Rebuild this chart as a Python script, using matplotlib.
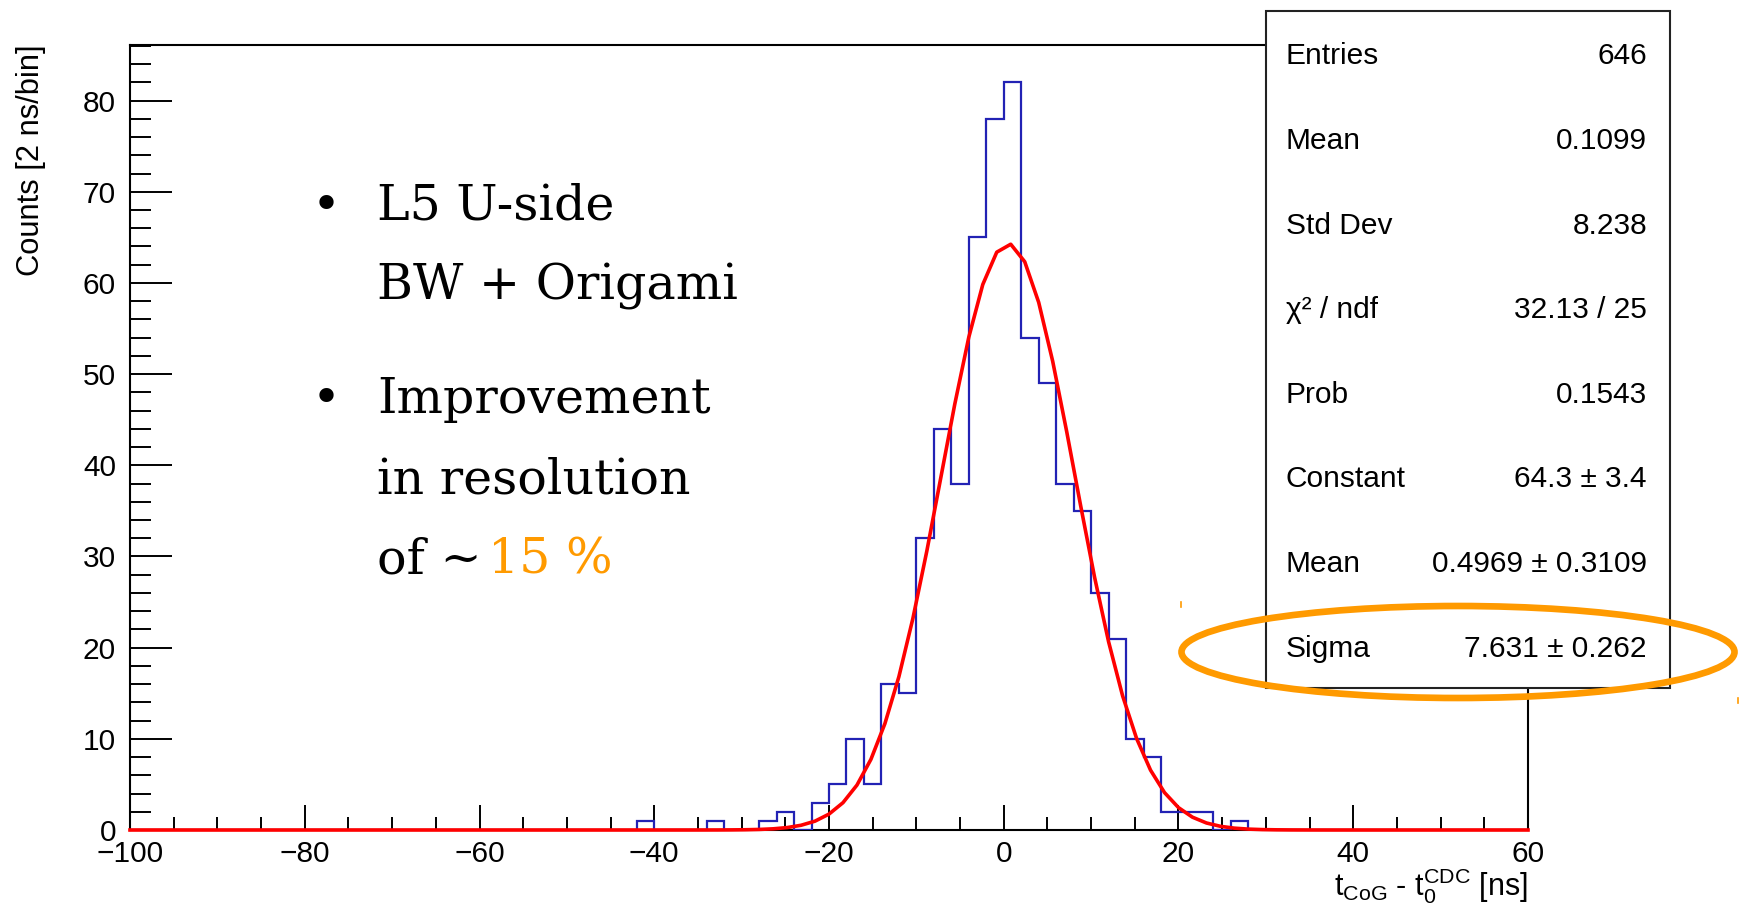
import numpy as np
import matplotlib
matplotlib.use("Agg")
import matplotlib.pyplot as plt
from matplotlib.patches import Ellipse, Rectangle
from matplotlib.lines import Line2D
from matplotlib.ticker import MultipleLocator

# ---------------- data ----------------
hist_low, hist_high, bin_width = -100, 60, 2
filled_bin_lows = [-42, -34, -28, -26, -22, -20, -18, -16, -14, -12, -10, -8, -6,
                   -4, -2, 0, 2, 4, 6, 8, 10, 12, 14, 16, 18, 20, 22, 26]
filled_bin_counts = [1, 1, 1, 2, 3, 5, 10, 5, 16, 15, 32, 44, 38,
                     65, 78, 82, 54, 49, 38, 35, 26, 21, 10, 8, 2, 2, 2, 1]

fit_constant = 64.3
fit_mean = 0.4969
fit_sigma = 7.631

x_ticks = [-100, -80, -60, -40, -20, 0, 20, 40, 60]
y_ticks = [0, 10, 20, 30, 40, 50, 60, 70, 80]

stat_labels = ["Entries", "Mean", "Std Dev", "χ² / ndf", "Prob",
               "Constant", "Mean", "Sigma"]
stat_values = ["646", "0.1099", "8.238", "32.13 / 25", "0.1543",
               "64.3 ± 3.4", "0.4969 ± 0.3109", "7.631 ± 0.262"]

bullet_lines = ["L5 U-side", "BW + Origami", "Improvement", "in resolution", "of ~"]
highlight_text = "15 %"

# ---------------- styling ----------------
W, H = 1740, 909
BLUE = "#2222b4"
ORANGE = "#ff9a00"
SANS = ["Liberation Sans", "DejaVu Sans"]
SERIF = ["DejaVu Serif"]
plt.rcParams["font.family"] = SANS
plt.rcParams["mathtext.fontset"] = "custom"
plt.rcParams["mathtext.rm"] = "Liberation Sans"
plt.rcParams["mathtext.it"] = "Liberation Sans:italic"
plt.rcParams["axes.unicode_minus"] = True

fig = plt.figure(figsize=(W / 100, H / 100), dpi=100)


def fx(px):
    return px / W


def fy(py):
    return 1 - py / H


ax = fig.add_axes([fx(130), fy(830), fx(1528) - fx(130), fy(45) - fy(830)])

# histogram
edges = np.arange(hist_low, hist_high + bin_width, bin_width)
counts = np.zeros(len(edges) - 1)
for lo, c in zip(filled_bin_lows, filled_bin_counts):
    counts[int((lo - hist_low) / bin_width)] = c
ax.stairs(counts, edges, color=BLUE, lw=1.6, zorder=3)

# fit function (drawn like ROOT with 100 segments)
xf = np.linspace(hist_low, hist_high, 101)
yf = fit_constant * np.exp(-0.5 * ((xf - fit_mean) / fit_sigma) ** 2)
ax.plot(xf, yf, color="red", lw=2.6, zorder=4, clip_on=False)

ax.set_xlim(hist_low, hist_high)
ax.set_ylim(0, 86.1)
ax.set_xticks(x_ticks)
ax.set_yticks(y_ticks)
ax.xaxis.set_minor_locator(MultipleLocator(5))
ax.yaxis.set_minor_locator(MultipleLocator(2))
ax.tick_params(which="both", direction="in", top=False, right=False,
               width=1.4, color="black", labelsize=21.5)
ax.tick_params(axis="x", which="major", length=18, pad=7)
ax.tick_params(axis="x", which="minor", length=9.4)
ax.tick_params(axis="y", which="major", length=30, pad=10)
ax.tick_params(axis="y", which="minor", length=15)
for s in ax.spines.values():
    s.set_linewidth(1.5)

# axis titles
fig.text(fx(1528), fy(895), r"$\mathrm{t_{CoG}}$ - $\mathrm{t_{0}^{CDC}}$ [ns]",
         ha="right", va="baseline", fontsize=22)
fig.text(fx(31), fy(44), "Counts [2 ns/bin]", rotation=90,
         ha="center", va="top", fontsize=22.2)

# statistics box
box = Rectangle((fx(1266), fy(688)), fx(1670) - fx(1266), fy(11) - fy(688),
                transform=fig.transFigure, facecolor="white", edgecolor="#222222",
                lw=1.5, zorder=10)
fig.patches.append(box)
row_h = (688 - 11) / len(stat_labels)
for i, (lab, val) in enumerate(zip(stat_labels, stat_values)):
    yb = 11 + (i + 0.5) * row_h + 11
    fig.text(fx(1286), fy(yb), lab, ha="left", va="baseline",
             fontsize=21.5, zorder=11)
    fig.text(fx(1647), fy(yb), val, ha="right", va="baseline",
             fontsize=21.5, zorder=11)

# orange highlight ellipse
ell = Ellipse((fx(1458), fy(652)), fx(553), 92 / H, transform=fig.transFigure,
              fill=False, edgecolor=ORANGE, lw=4.8, zorder=20)
fig.patches.append(ell)
for (x0, y0, y1) in [(1181, 602, 607), (1738, 698, 703)]:
    fig.lines.append(Line2D([fx(x0), fx(x0)], [fy(y0), fy(y1)],
                            transform=fig.transFigure, color=ORANGE, lw=1.2,
                            zorder=20))

# bullet annotations
text_x = 377
bullet_x = 326
baselines = [220, 300, 413, 493, 574]
bullets_at = [0, 2]
SERIF_SIZE = 35.3
for i, (line, yb) in enumerate(zip(bullet_lines, baselines)):
    fig.text(fx(text_x), fy(yb), line, ha="left", va="baseline",
             fontsize=SERIF_SIZE, family=SERIF, color="black")
    if i in bullets_at:
        fig.text(fx(bullet_x), fy(yb), "•", ha="center", va="baseline",
                 fontsize=SERIF_SIZE, family=SERIF, color="black")
fig.text(fx(488), fy(baselines[-1]), highlight_text, ha="left", va="baseline",
         fontsize=SERIF_SIZE, family=SERIF, color=ORANGE)

fig.savefig("out.png", dpi=100, facecolor="white")
